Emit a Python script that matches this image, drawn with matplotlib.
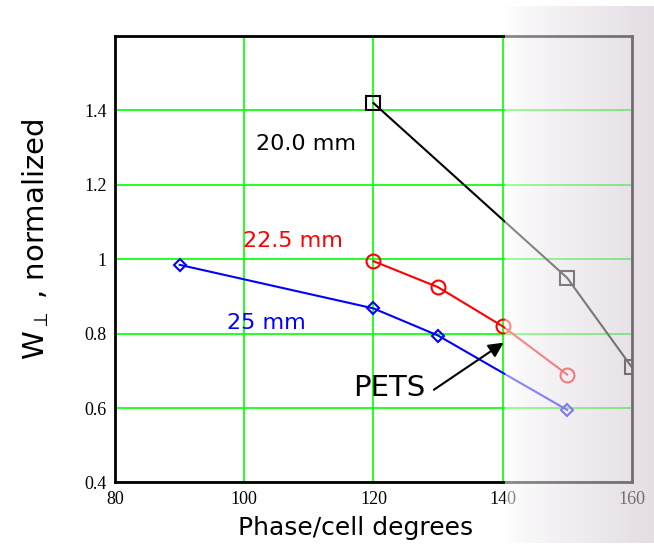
import matplotlib
matplotlib.use("Agg")

import numpy as np
import matplotlib.pyplot as plt
from matplotlib.colors import to_rgb

# -------------------------------------------------
# DATA
# -------------------------------------------------
phase_20 = [120, 150, 160]
w_20 = [1.42, 0.95, 0.71]

phase_225 = [120, 130, 140, 150]
w_225 = [0.995, 0.925, 0.82, 0.69]

phase_25 = [90, 120, 130, 150]
w_25 = [0.985, 0.868, 0.795, 0.595]

x_ticks = [80, 100, 120, 140, 160]
y_ticks = [0.4, 0.6, 0.8, 1.0, 1.2, 1.4]
y_tick_labels = ["0.4", "0.6", "0.8", "1", "1.2", "1.4"]

# -------------------------------------------------
# PLOT
# -------------------------------------------------
fig = plt.figure(figsize=(6.54, 5.47), dpi=100)
ax = fig.add_axes([0.176, 0.118, 0.79, 0.816])

ax.plot(phase_20, w_20, color="black", lw=1.5, marker="s", ms=10,
        mfc="none", mec="black", mew=1.5, zorder=3)
ax.plot(phase_225, w_225, color="red", lw=1.5, marker="o", ms=10,
        mfc="none", mec="red", mew=1.5, zorder=3)
ax.plot(phase_25, w_25, color="blue", lw=1.5, marker="D", ms=6,
        mfc="none", mec="blue", mew=1.5, zorder=3)

ax.set_xlim(80, 160)
ax.set_ylim(0.4, 1.6)
ax.set_xticks(x_ticks)
ax.set_yticks(y_ticks)
ax.set_yticklabels(y_tick_labels)
ax.tick_params(length=0, labelsize=13, pad=6)
for lab in ax.get_xticklabels() + ax.get_yticklabels():
    lab.set_fontfamily("Liberation Serif")

ax.grid(True, color="#00ff00", lw=1.2)
ax.set_axisbelow(True)
for sp in ax.spines.values():
    sp.set_linewidth(2)
    sp.set_color("black")

ax.set_xlabel("Phase/cell degrees", fontsize=18)
ax.xaxis.set_label_coords(0.466, -0.075)
ax.set_ylabel(r"W$_{\perp}$ , normalized", fontsize=21)
ax.yaxis.set_label_coords(-0.125, 0.545)

ax.text(109.5, 1.31, "20.0 mm", fontsize=16, color="black",
        ha="center", va="center")
ax.text(107.5, 1.05, "22.5 mm", fontsize=16, color="red",
        ha="center", va="center")
ax.text(103.5, 0.83, "25 mm", fontsize=16, color="blue",
        ha="center", va="center")
ax.text(122.5, 0.655, "PETS", fontsize=21, color="black",
        ha="center", va="center")
ax.annotate("", xy=(140.5, 0.78), xytext=(129.0, 0.645),
            arrowprops=dict(arrowstyle="-|>", color="black", lw=1.5,
                            mutation_scale=22))

# faded lavender overlay on the right side of the slide
W, H = 654, 547
x0, y0, y1 = 505, 6, 543
ov = fig.add_axes([x0 / W, (H - y1) / H, (W - x0) / W, (y1 - y0) / H],
                  zorder=10)
ov.axis("off")
t = np.linspace(0, 1, 200)
c_left = np.array(to_rgb("white"))
c_right = np.array([206, 195, 206]) / 255.0
rgba = np.zeros((2, 200, 4))
rgba[..., :3] = c_left + (c_right - c_left) * (t ** 0.8)[None, :, None]
rgba[..., 3] = 0.55
ov.imshow(rgba, aspect="auto", extent=[0, 1, 0, 1])
ov.set_xlim(0, 1)
ov.set_ylim(0, 1)

fig.savefig("out.png", dpi=100)
plt.close(fig)
